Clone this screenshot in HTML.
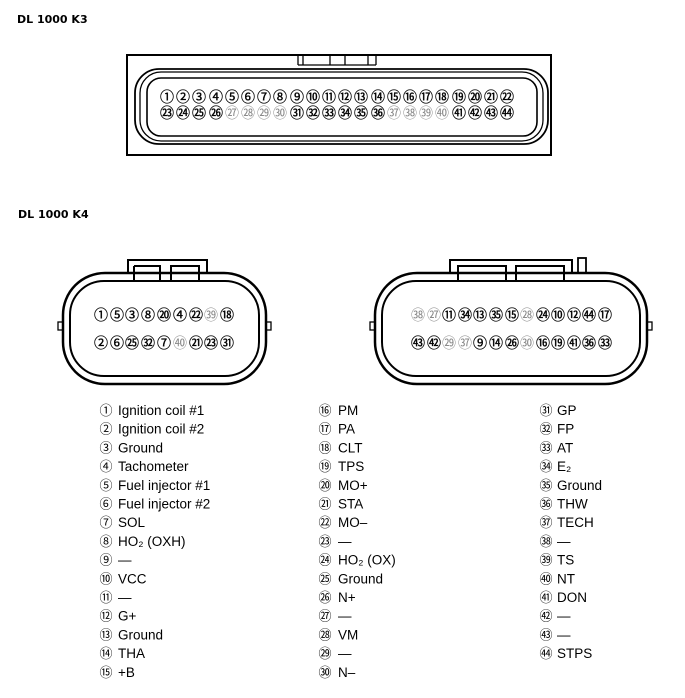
<!DOCTYPE html>
<html><head><meta charset="utf-8"><style>
html,body{margin:0;padding:0;background:#fff;width:685px;height:698px;overflow:hidden}
svg{display:block}
.h{font-family:"DejaVu Sans","Liberation Sans",sans-serif;font-weight:bold;font-size:11px}
.p{font-family:"Noto Sans CJK JP","DejaVu Sans",sans-serif;font-size:14px;text-anchor:middle;stroke:#000;stroke-width:0.35}
.g{fill:#888;stroke:none}
.l{font-family:"Liberation Sans","Noto Sans CJK JP",sans-serif;font-size:13.5px}
.n{font-family:"Noto Sans CJK JP","DejaVu Sans",sans-serif;font-size:13px;text-anchor:middle}
</style></head><body>
<svg width="685" height="698" viewBox="0 0 685 698" xmlns="http://www.w3.org/2000/svg">
<text class="h" x="17" y="23">DL 1000 K3</text>
<text class="h" x="18" y="218">DL 1000 K4</text>

<g fill="none" stroke="#000">
<rect x="127" y="55" width="424" height="100" stroke-width="2"/>
<path d="M298 56V65M303 56V65M330 56V65M345 56V65M368 56V65M376 56V65M298 65H376" stroke-width="1.3"/>
<rect x="135" y="69" width="413" height="75" rx="24" stroke-width="1.8"/>
<rect x="140" y="72" width="403" height="69" rx="21" stroke-width="1.3"/>
<rect x="147" y="78" width="390" height="58" rx="14" stroke-width="1.6"/>
</g>
<text class="p" x="167 183 199 216 232 248 264 280 297 313 329 345 361 378 394 410 426 442 459 475 491 507" y="102">①②③④⑤⑥⑦⑧⑨⑩⑪⑫⑬⑭⑮⑯⑰⑱⑲⑳㉑㉒</text>
<text class="p" x="167 183 199 216" y="118">㉓㉔㉕㉖</text>
<text class="p g" x="232 248 264 280" y="118">㉗㉘㉙㉚</text>
<text class="p" x="297 313 329 345 361 378" y="118">㉛㉜㉝㉞㉟㊱</text>
<text class="p g" x="394 410 426 442" y="118">㊲㊳㊴㊵</text>
<text class="p" x="459 475 491 507" y="118">㊶㊷㊸㊹</text>

<g fill="#fff" stroke="#000">
<rect x="58" y="322" width="6" height="8" stroke-width="1.3"/>
<rect x="265" y="322" width="6" height="8" stroke-width="1.3"/>
<rect x="128" y="260" width="79" height="20" stroke-width="2"/>
<rect x="63" y="273" width="203" height="111" rx="42" stroke-width="2.5"/>
<rect x="70" y="281" width="189" height="95" rx="34" stroke-width="2"/>
<path d="M134 266H160V282M134 266V282M171 282V266H199V282" fill="none" stroke-width="2"/>
</g>
<text class="p" x="101 117 132 148 164 180 196" y="320">①⑤③⑧⑳④㉒</text>
<text class="p g" x="211" y="320">㊴</text>
<text class="p" x="227" y="320">⑱</text>
<text class="p" x="101 117 132 148 164" y="348">②⑥㉕㉜⑦</text>
<text class="p g" x="180" y="348">㊵</text>
<text class="p" x="196 211 227" y="348">㉑㉓㉛</text>

<g fill="#fff" stroke="#000">
<rect x="370" y="322" width="6" height="8" stroke-width="1.3"/>
<rect x="646" y="322" width="6" height="8" stroke-width="1.3"/>
<rect x="578" y="258" width="8" height="20" stroke-width="1.8"/>
<rect x="450" y="260" width="122" height="20" stroke-width="2"/>
<rect x="375" y="273" width="272" height="111" rx="42" stroke-width="2.5"/>
<rect x="382" y="281" width="258" height="95" rx="34" stroke-width="2"/>
<path d="M458 282V266H506V282M516 282V266H564V282" fill="none" stroke-width="2"/>
</g>
<text class="p g" x="418 434" y="320">㊳㉗</text>
<text class="p" x="449 465 480 496 512" y="320">⑪㉞⑬㉟⑮</text>
<text class="p g" x="527" y="320">㉘</text>
<text class="p" x="543 558 574 589 605" y="320">㉔⑩⑫㊹⑰</text>
<text class="p" x="418 434" y="348">㊸㊷</text>
<text class="p g" x="449 465" y="348">㉙㊲</text>
<text class="p" x="480 496 512" y="348">⑨⑭㉖</text>
<text class="p g" x="527" y="348">㉚</text>
<text class="p" x="543 558 574 589 605" y="348">⑯⑲㊶㊱㉝</text>

<g>
<text class="n" x="106" y="415">①</text><text class="l" x="118" y="415">Ignition coil #1</text>
<text class="n" x="106" y="433.7">②</text><text class="l" x="118" y="433.7">Ignition coil #2</text>
<text class="n" x="106" y="452.4">③</text><text class="l" x="118" y="452.4">Ground</text>
<text class="n" x="106" y="471.1">④</text><text class="l" x="118" y="471.1">Tachometer</text>
<text class="n" x="106" y="489.8">⑤</text><text class="l" x="118" y="489.8">Fuel injector #1</text>
<text class="n" x="106" y="508.5">⑥</text><text class="l" x="118" y="508.5">Fuel injector #2</text>
<text class="n" x="106" y="527.2">⑦</text><text class="l" x="118" y="527.2">SOL</text>
<text class="n" x="106" y="545.9">⑧</text><text class="l" x="118" y="545.9">HO₂ (OXH)</text>
<text class="n" x="106" y="564.6">⑨</text><text class="l" x="118" y="564.6">—</text>
<text class="n" x="106" y="583.3">⑩</text><text class="l" x="118" y="583.3">VCC</text>
<text class="n" x="106" y="602">⑪</text><text class="l" x="118" y="602">—</text>
<text class="n" x="106" y="620.7">⑫</text><text class="l" x="118" y="620.7">G+</text>
<text class="n" x="106" y="639.4">⑬</text><text class="l" x="118" y="639.4">Ground</text>
<text class="n" x="106" y="658.1">⑭</text><text class="l" x="118" y="658.1">THA</text>
<text class="n" x="106" y="676.8">⑮</text><text class="l" x="118" y="676.8">+B</text>
</g>
<g>
<text class="n" x="325" y="415">⑯</text><text class="l" x="338" y="415">PM</text>
<text class="n" x="325" y="433.7">⑰</text><text class="l" x="338" y="433.7">PA</text>
<text class="n" x="325" y="452.4">⑱</text><text class="l" x="338" y="452.4">CLT</text>
<text class="n" x="325" y="471.1">⑲</text><text class="l" x="338" y="471.1">TPS</text>
<text class="n" x="325" y="489.8">⑳</text><text class="l" x="338" y="489.8">MO+</text>
<text class="n" x="325" y="508.5">㉑</text><text class="l" x="338" y="508.5">STA</text>
<text class="n" x="325" y="527.2">㉒</text><text class="l" x="338" y="527.2">MO–</text>
<text class="n" x="325" y="545.9">㉓</text><text class="l" x="338" y="545.9">—</text>
<text class="n" x="325" y="564.6">㉔</text><text class="l" x="338" y="564.6">HO₂ (OX)</text>
<text class="n" x="325" y="583.3">㉕</text><text class="l" x="338" y="583.3">Ground</text>
<text class="n" x="325" y="602">㉖</text><text class="l" x="338" y="602">N+</text>
<text class="n" x="325" y="620.7">㉗</text><text class="l" x="338" y="620.7">—</text>
<text class="n" x="325" y="639.4">㉘</text><text class="l" x="338" y="639.4">VM</text>
<text class="n" x="325" y="658.1">㉙</text><text class="l" x="338" y="658.1">—</text>
<text class="n" x="325" y="676.8">㉚</text><text class="l" x="338" y="676.8">N–</text>
</g>
<g>
<text class="n" x="546" y="415">㉛</text><text class="l" x="557" y="415">GP</text>
<text class="n" x="546" y="433.7">㉜</text><text class="l" x="557" y="433.7">FP</text>
<text class="n" x="546" y="452.4">㉝</text><text class="l" x="557" y="452.4">AT</text>
<text class="n" x="546" y="471.1">㉞</text><text class="l" x="557" y="471.1">E₂</text>
<text class="n" x="546" y="489.8">㉟</text><text class="l" x="557" y="489.8">Ground</text>
<text class="n" x="546" y="508.5">㊱</text><text class="l" x="557" y="508.5">THW</text>
<text class="n" x="546" y="527.2">㊲</text><text class="l" x="557" y="527.2">TECH</text>
<text class="n" x="546" y="545.9">㊳</text><text class="l" x="557" y="545.9">—</text>
<text class="n" x="546" y="564.6">㊴</text><text class="l" x="557" y="564.6">TS</text>
<text class="n" x="546" y="583.3">㊵</text><text class="l" x="557" y="583.3">NT</text>
<text class="n" x="546" y="602">㊶</text><text class="l" x="557" y="602">DON</text>
<text class="n" x="546" y="620.7">㊷</text><text class="l" x="557" y="620.7">—</text>
<text class="n" x="546" y="639.4">㊸</text><text class="l" x="557" y="639.4">—</text>
<text class="n" x="546" y="658.1">㊹</text><text class="l" x="557" y="658.1">STPS</text>
</g>
</svg>
</body></html>
